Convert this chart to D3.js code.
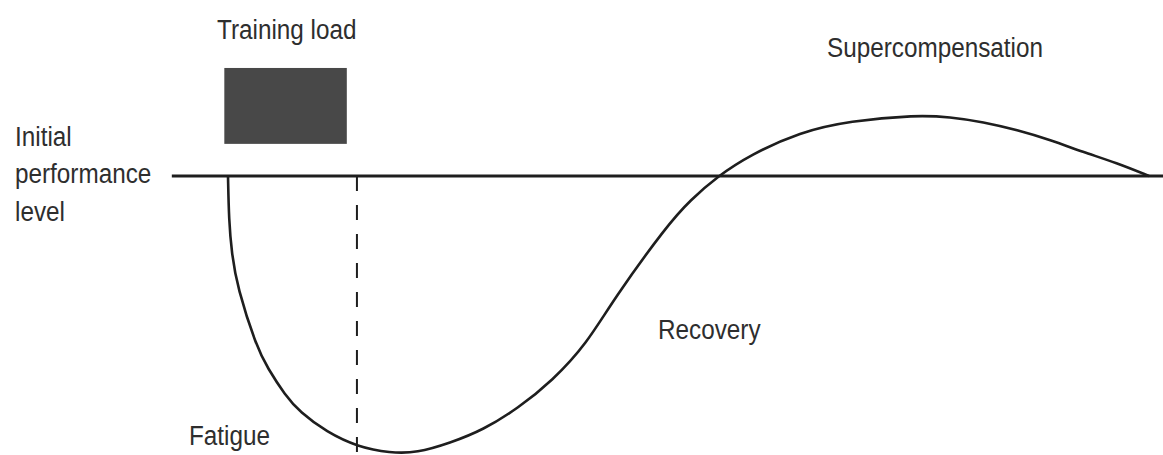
<!DOCTYPE html>
<html>
<head>
<meta charset="utf-8">
<script src="https://cdn.jsdelivr.net/npm/d3@7"></script>
<style>
  body { margin: 0; background: #fff; }
  svg { display: block; }
  text { font-family: "Liberation Sans", Arial, sans-serif; fill: #2e2e2e; }
</style>
</head>
<body>
<div id="chart"></div>
<script>
// performance curve after a training load (time units, performance relative to initial level)
var curveTime = [0, 0.01, 0.04, 0.1, 0.31, 0.43, 0.62, 0.78, 1.07, 1.41, 1.76, 2.05, 2.41, 2.77, 3.15, 3.52, 3.9, 4.18, 4.77, 5.02, 5.32, 5.67, 6.21, 6.75, 7.47, 7.84, 8.2, 8.57, 8.93, 9.28, 9.65, 10];
var curvePerf = [0, -15.9, -27.8, -40.1, -61.7, -69.3, -79.1, -85.2, -92.4, -97.8, -100, -100, -96.4, -91.7, -83.8, -74, -60.3, -44.8, -17.7, -8.7, 0, 7.6, 15.9, 19.9, 22, 21.3, 19.5, 16.6, 13, 8.7, 4.7, 0];

// initial level line and the training load block
var baselineSpan = [-0.61, 10.2];
var loadTime = [-0.04, 1.29];
var loadLevel = [11.6, 39];
var loadEnd = 1.4;

var labels = ["Training load", "Initial", "performance", "level", "Fatigue", "Recovery", "Supercompensation"];

var width = 1163, height = 455;

var svg = d3.select("#chart").append("svg")
    .attr("width", width)
    .attr("height", height);

var x = d3.scaleLinear().domain([0, 10]).range([228, 1149]);
var y = d3.scaleLinear().domain([-100, 0]).range([453, 176]);

//training load block
svg.append("rect")
    .attr("x", x(loadTime[0]))
    .attr("y", y(loadLevel[1]))
    .attr("width", x(loadTime[1]) - x(loadTime[0]))
    .attr("height", y(loadLevel[0]) - y(loadLevel[1]))
    .attr("fill", "#484848");

//initial performance level
svg.append("line")
    .attr("x1", x(baselineSpan[0]))
    .attr("x2", x(baselineSpan[1]))
    .attr("y1", y(0))
    .attr("y2", y(0))
    .attr("stroke", "#1e1e1e")
    .attr("stroke-width", 2.8);

//end of training load
svg.append("line")
    .attr("x1", x(loadEnd))
    .attr("x2", x(loadEnd))
    .attr("y1", y(0))
    .attr("y2", y(-100))
    .attr("stroke", "#1e1e1e")
    .attr("stroke-width", 2)
    .attr("stroke-dasharray", "15,14");

var points = curveTime.map(function(t, i) { return [t, curvePerf[i]]; });

//basis spline smooths out the small reading errors
var line = d3.line()
    .x(function(d) { return x(d[0]); })
    .y(function(d) { return y(d[1]); })
    .curve(d3.curveBasis);

svg.append("path")
    .datum(points)
    .attr("d", line)
    .attr("fill", "none")
    .attr("stroke", "#1e1e1e")
    .attr("stroke-width", 2.6);

//labels, squeezed a bit like the condensed type of the original
var labelPos = [[217, 39], [15, 146], [15, 183], [15, 221], [189, 445], [658, 339], [827, 57]];
svg.selectAll(".lbl")
    .data(labels)
    .enter()
    .append("text")
    .attr("class", "lbl")
    .attr("transform", function(d, i) { return "translate(" + labelPos[i][0] + "," + labelPos[i][1] + ") scale(0.9,1)"; })
    .style("font-size", "27px")
    .text(function(d) { return d; });
</script>
</body>
</html>
